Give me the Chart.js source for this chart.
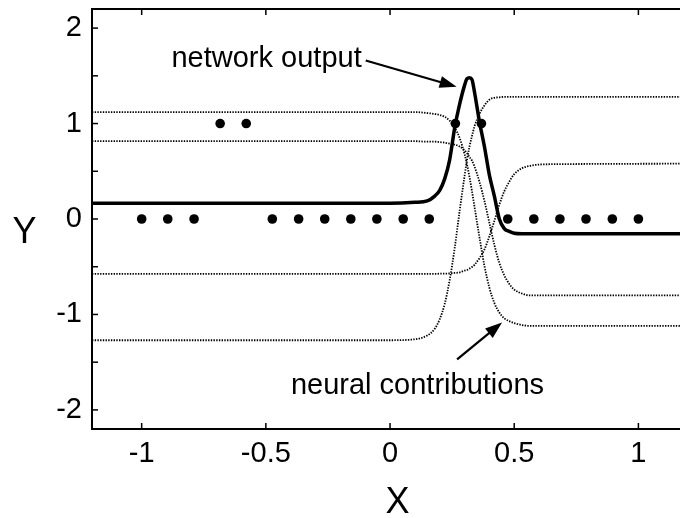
<!DOCTYPE html>
<html>
<head>
<meta charset="utf-8">
<script src="https://cdn.jsdelivr.net/npm/chart.js@4/dist/chart.umd.min.js"></script>
<style>
  html, body { margin: 0; padding: 0; background: #fff; }
  #wrap { width: 680px; height: 518px; position: relative; }
</style>
</head>
<body>
<div id="wrap"><canvas id="chart"></canvas></div>
<script>
var curveX = [-1.2, 0, 0.1, 0.15, 0.18, 0.2, 0.22, 0.24, 0.26, 0.28, 0.3, 0.31, 0.32, 0.33, 0.34,
              0.36, 0.38, 0.4, 0.42, 0.44, 0.46, 0.48, 0.5, 0.53, 0.56, 0.6, 0.7, 1.2];

// network output (thick line)
var outputY = [0.165, 0.165, 0.175, 0.19, 0.24, 0.30, 0.42, 0.62, 0.95, 1.20, 1.40, 1.47, 1.48, 1.46, 1.33,
               1.02, 0.76, 0.46, 0.24, 0.0, -0.10, -0.13, -0.15, -0.155, -0.155, -0.155, -0.155, -0.155];

// neural contributions (dotted lines)
var neuronA = [1.12, 1.12, 1.12, 1.11, 1.10, 1.09, 1.07, 1.03, 0.96, 0.85, 0.68, 0.57, 0.44, 0.29, 0.13,
               -0.19, -0.49, -0.72, -0.88, -0.98, -1.04, -1.07, -1.09, -1.11, -1.12, -1.12, -1.12, -1.12];
var neuronB = [0.815, 0.815, 0.815, 0.81, 0.81, 0.805, 0.80, 0.79, 0.78, 0.76, 0.72, 0.69, 0.65, 0.61, 0.55,
               0.39, 0.19, -0.04, -0.27, -0.46, -0.59, -0.68, -0.74, -0.78, -0.80, -0.80, -0.80, -0.80];
var neuronC = [-0.575, -0.575, -0.575, -0.575, -0.575, -0.573, -0.572, -0.57, -0.565, -0.56, -0.54, -0.534, -0.52, -0.503, -0.48,
               -0.41, -0.32, -0.18, -0.02, 0.15, 0.29, 0.39, 0.47, 0.53, 0.555, 0.57, 0.575, 0.58];
var neuronD = [-1.27, -1.27, -1.26, -1.22, -1.15, -1.05, -0.89, -0.64, -0.31, 0.08, 0.45, 0.62, 0.76, 0.87, 0.97,
               1.10, 1.19, 1.25, 1.27, 1.275, 1.28, 1.28, 1.28, 1.28, 1.28, 1.28, 1.28, 1.28];

// training samples (dots)
var sampleX = [-1, -0.895, -0.789, -0.684, -0.579, -0.474, -0.368, -0.263, -0.158, -0.053,
               0.053, 0.158, 0.263, 0.368, 0.474, 0.579, 0.684, 0.789, 0.895, 1];
var sampleY = [0, 0, 0, 1, 1, 0, 0, 0, 0, 0, 0, 0, 1, 1, 0, 0, 0, 0, 0, 0];

var xTicks = [-1, -0.5, 0, 0.5, 1];
var yTicks = [-2, -1.5, -1, -0.5, 0, 0.5, 1, 1.5, 2];

function pts(xs, ys) {
    return xs.map(function(v, i) { return { x: v, y: ys[i] }; });
}

function dotted(values) {
    return {
        data: pts(curveX, values),
        borderColor: "#000",
        borderWidth: 1.8,
        borderDash: [1.4, 1.3],
        pointRadius: 0,
        cubicInterpolationMode: "monotone",
        fill: false
    };
}

var tickFont = { family: "'Liberation Sans', Arial, sans-serif", size: 29 };

function arrow(ctx, x1, y1, x2, y2) {
    var ang = Math.atan2(y2 - y1, x2 - x1);
    var len = 17, half = 6;
    ctx.beginPath();
    ctx.moveTo(x1, y1);
    ctx.lineTo(x2 - Math.cos(ang) * len * 0.8, y2 - Math.sin(ang) * len * 0.8);
    ctx.stroke();
    ctx.beginPath();
    ctx.moveTo(x2, y2);
    ctx.lineTo(x2 - Math.cos(ang) * len - Math.sin(ang) * half, y2 - Math.sin(ang) * len + Math.cos(ang) * half);
    ctx.lineTo(x2 - Math.cos(ang) * len + Math.sin(ang) * half, y2 - Math.sin(ang) * len - Math.cos(ang) * half);
    ctx.closePath();
    ctx.fill();
}

// box top edge, inward ticks, annotations and axis letters
var decor = {
    id: "decor",
    afterDatasetsDraw: function(chart) {
        var ctx = chart.ctx, a = chart.chartArea;
        var xs = chart.scales.x, ys = chart.scales.y;
        ctx.save();
        ctx.strokeStyle = "#000";
        ctx.fillStyle = "#000";
        ctx.lineWidth = 2;
        ctx.beginPath();
        ctx.moveTo(a.left, a.top);
        ctx.lineTo(a.right, a.top);
        ctx.stroke();

        ctx.lineWidth = 1.5;
        xTicks.forEach(function(v) {
            var px = xs.getPixelForValue(v);
            ctx.beginPath();
            ctx.moveTo(px, a.bottom); ctx.lineTo(px, a.bottom - 6);
            ctx.moveTo(px, a.top); ctx.lineTo(px, a.top + 6);
            ctx.stroke();
        });
        yTicks.forEach(function(v) {
            var py = ys.getPixelForValue(v);
            ctx.beginPath();
            ctx.moveTo(a.left, py); ctx.lineTo(a.left + 6, py);
            ctx.stroke();
        });

        ctx.font = "29px 'Liberation Sans', Arial, sans-serif";
        ctx.textBaseline = "alphabetic";
        ctx.textAlign = "left";
        ctx.fillText("network output", xs.getPixelForValue(-0.88), ys.getPixelForValue(1.595));
        ctx.fillText("neural contributions", xs.getPixelForValue(-0.399), ys.getPixelForValue(-1.836));

        ctx.lineWidth = 2.2;
        arrow(ctx, xs.getPixelForValue(-0.098), ys.getPixelForValue(1.66),
                   xs.getPixelForValue(0.268), ys.getPixelForValue(1.385));
        arrow(ctx, xs.getPixelForValue(0.27), ys.getPixelForValue(-1.47),
                   xs.getPixelForValue(0.451), ys.getPixelForValue(-1.084));

        ctx.font = "36px 'Liberation Sans', Arial, sans-serif";
        ctx.textAlign = "center";
        ctx.fillText("Y", 24.5, 243);
        ctx.fillText("X", 397.5, 513);
        ctx.restore();
    }
};

new Chart(document.getElementById("chart").getContext("2d"), {
    type: "line",
    data: {
        datasets: [
            {
                data: pts(sampleX, sampleY),
                showLine: false,
                pointRadius: 4.8,
                pointBackgroundColor: "#000",
                pointBorderColor: "#000",
                pointBorderWidth: 0
            },
            {
                data: pts(curveX, outputY),
                borderColor: "#000",
                borderWidth: 3.5,
                pointRadius: 0,
                cubicInterpolationMode: "monotone",
                fill: false
            },
            dotted(neuronA),
            dotted(neuronB),
            dotted(neuronC),
            dotted(neuronD)
        ]
    },
    options: {
        responsive: true,
        maintainAspectRatio: false,
        animation: false,
        layout: { autoPadding: false, padding: { top: 9, right: 0, bottom: 0, left: 0 } },
        plugins: {
            legend: { display: false },
            tooltip: { enabled: false }
        },
        scales: {
            x: {
                type: "linear",
                min: -1.2,
                max: 1.1675,
                afterBuildTicks: function(s) { s.ticks = xTicks.map(function(v) { return { value: v }; }); },
                afterFit: function(s) { s.height = 89; s.paddingLeft = 0; s.paddingRight = 0; },
                grid: { drawOnChartArea: false, drawTicks: false },
                border: { display: true, color: "#000", width: 2 },
                ticks: {
                    color: "#000",
                    font: tickFont,
                    padding: 8,
                    maxRotation: 0,
                    autoSkip: false,
                    callback: function(v) { return String(v); }
                }
            },
            y: {
                type: "linear",
                min: -2.2,
                max: 2.2,
                afterBuildTicks: function(s) { s.ticks = yTicks.map(function(v) { return { value: v }; }); },
                afterFit: function(s) { s.width = 92; s.paddingTop = 0; s.paddingBottom = 0; },
                grid: { drawOnChartArea: false, drawTicks: false },
                border: { display: true, color: "#000", width: 2 },
                ticks: {
                    color: "#000",
                    font: tickFont,
                    padding: 10,
                    autoSkip: false,
                    callback: function(v) { return Number.isInteger(v) ? String(v) : ""; }
                }
            }
        }
    },
    plugins: [decor]
});
</script>
</body>
</html>
